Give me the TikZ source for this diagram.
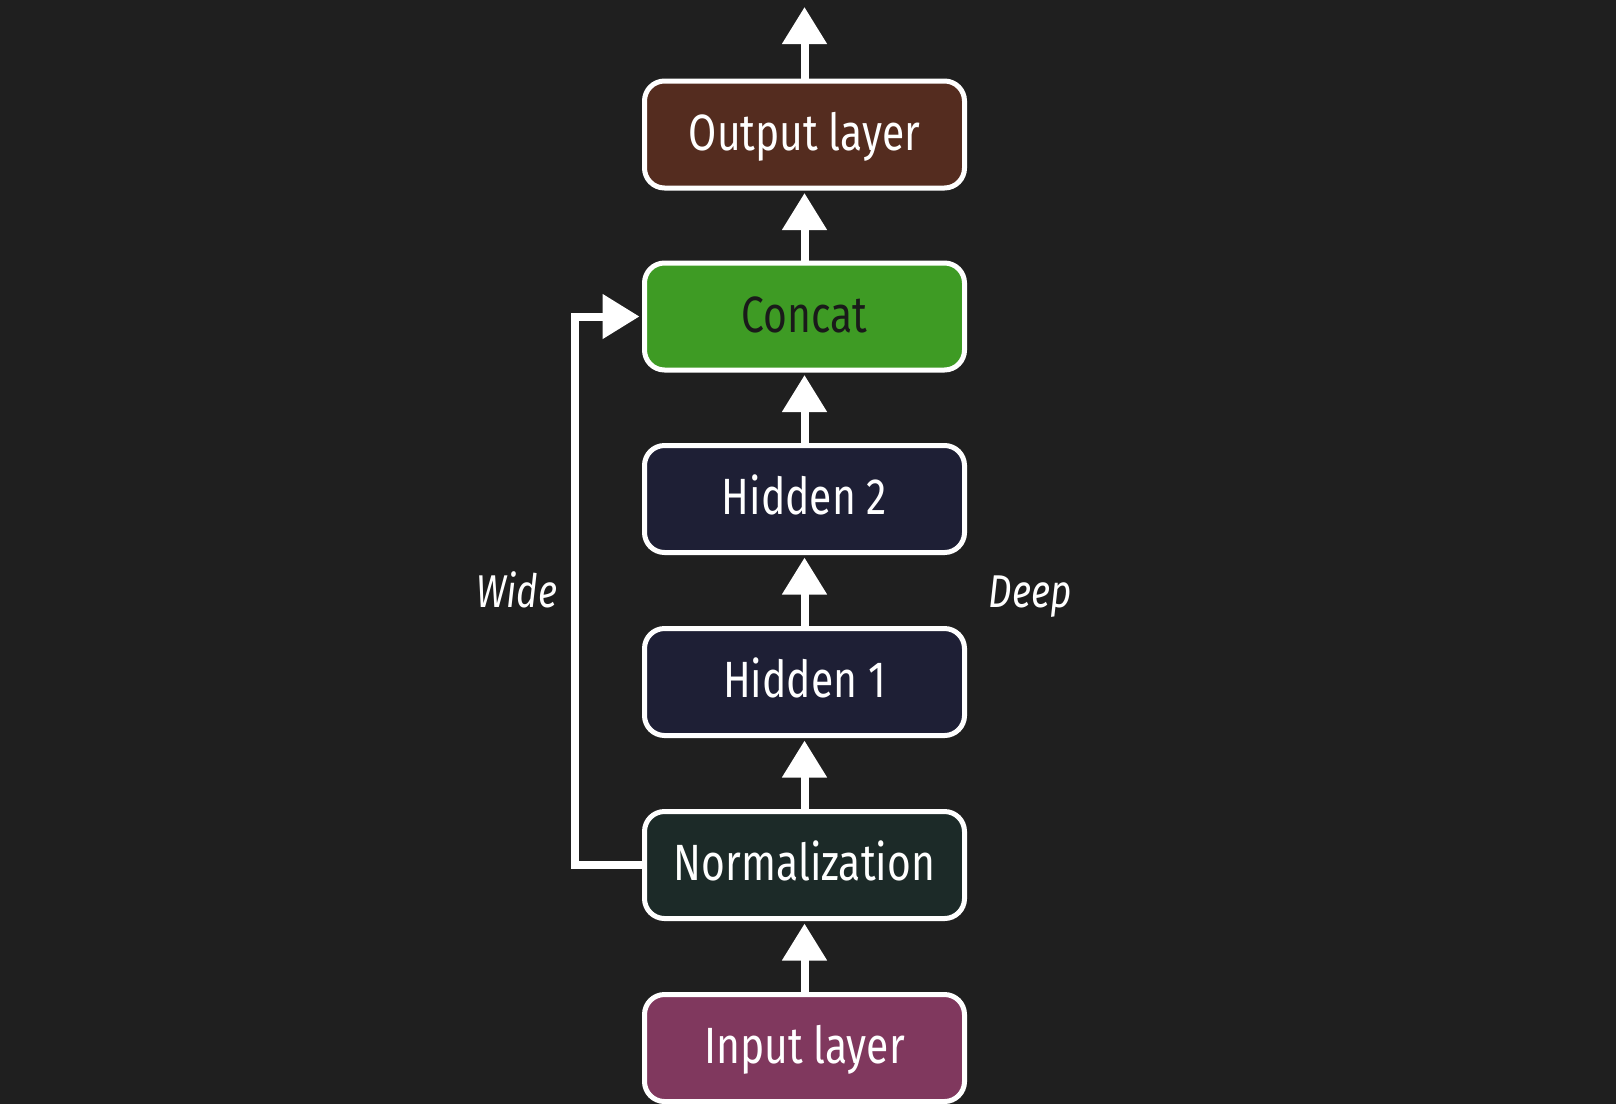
\documentclass[tikz,border=0pt]{standalone}
\usepackage{fontspec}
\setmainfont[FakeStretch=0.8]{Fira Sans}
\usetikzlibrary{arrows.meta}
\definecolor{bgc}{HTML}{1F1F1F}
\definecolor{outc}{HTML}{542C1F}
\definecolor{concc}{HTML}{3E9B24}
\definecolor{hidc}{HTML}{1E1F35}
\definecolor{normc}{HTML}{1C2A28}
\definecolor{inc}{HTML}{80385E}
\definecolor{darktext}{HTML}{1A1A1A}
\begin{document}
\begin{tikzpicture}[x=0.5pt,y=-0.5pt,
  box/.style={draw=white, line width=2.5pt, rounded corners=10pt,
    minimum width=160pt, minimum height=53.5pt, inner sep=0pt,
    text=white, font=\fontsize{25.5}{30}\selectfont,
    text height=15.5pt, text depth=0pt},
  arr/.style={draw=white, line width=4pt, shorten >=1.25pt,
    -{Triangle[width=21.5pt,length=18.5pt]}},
  lbl/.style={text=white, font=\fontsize{23}{28}\selectfont\itshape, anchor=base, inner sep=0pt}]
\fill[bgc] (0,0) rectangle (1616,1104);
\node[box, fill=outc] (out) at (804.5,134.5) {Output layer};
\node[box, fill=concc, text=darktext] (concat) at (804.5,316.5) {Concat};
\node[box, fill=hidc] (h2) at (804.5,499) {Hidden 2};
\node[box, fill=hidc] (h1) at (804.5,682) {Hidden 1};
\node[box, fill=normc] (norm) at (804.5,865) {Normalization};
\node[box, fill=inc] (in) at (804.5,1048) {Input layer};
\coordinate (top) at (804.5,7);
\draw[arr] (in.north) -- (norm.south);
\draw[arr] (norm.north) -- (h1.south);
\draw[arr] (h1.north) -- (h2.south);
\draw[arr] (h2.north) -- (concat.south);
\draw[arr] (concat.north) -- (out.south);
\draw[arr, shorten >=0pt] (out.north) -- (top);
\draw[arr] (norm.west) -- ++(-67,0) |- (concat.west);
\node[lbl] (wide) at (517,607) {Wide};
\node[lbl] (deep) at (1030,607) {Deep};
\end{tikzpicture}
\end{document}
